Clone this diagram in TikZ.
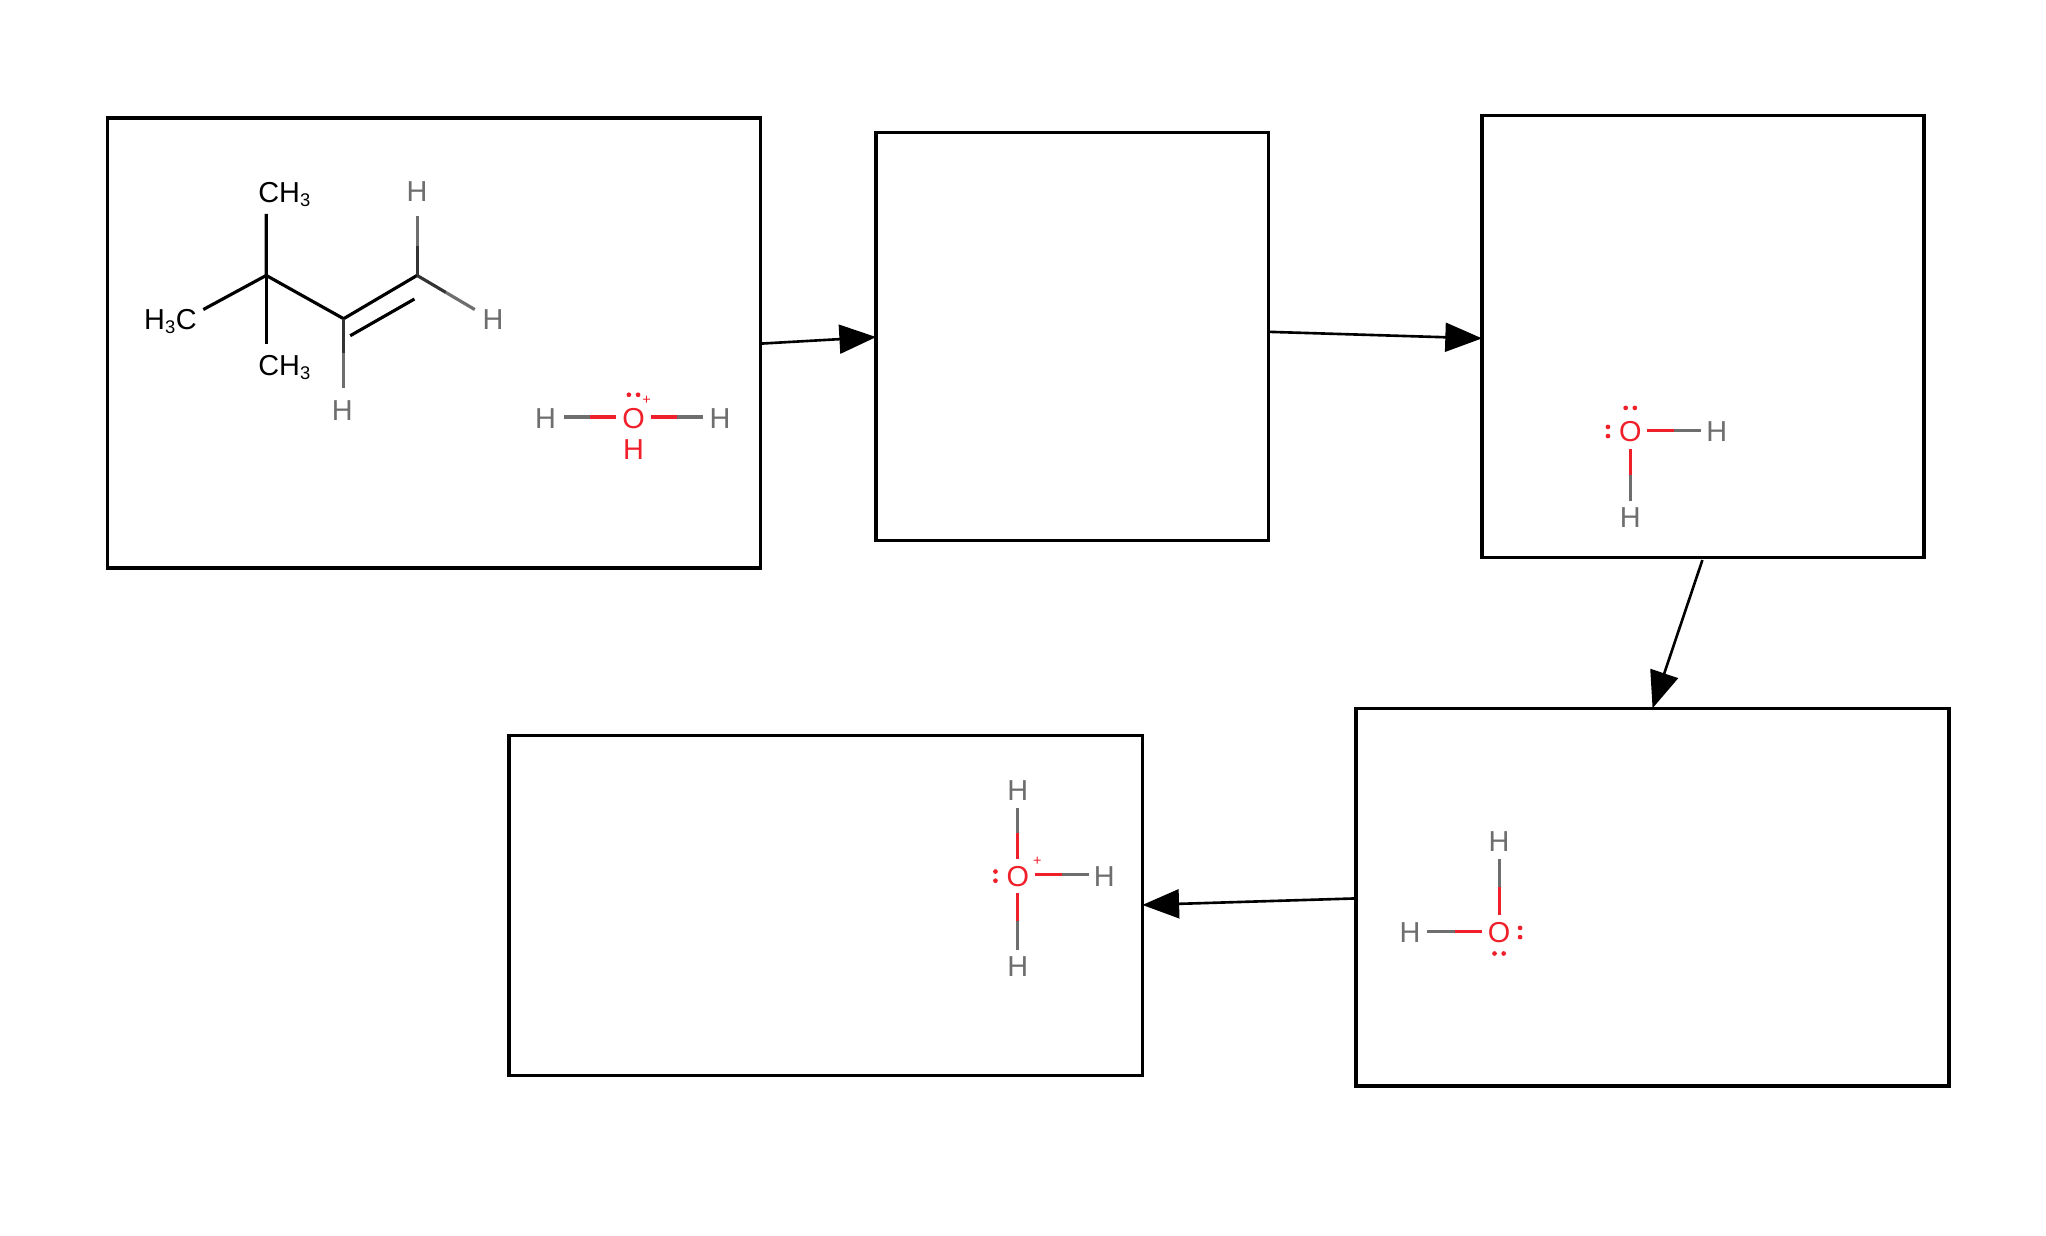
\documentclass[tikz,border=0pt]{standalone}
\usepackage{fontspec}
\setmainfont{Liberation Sans}
\usetikzlibrary{arrows.meta,calc}
\definecolor{hg}{HTML}{6E6E6E}
\definecolor{ored}{HTML}{F0202A}
\tikzset{x=1pt,y=-1pt,
 box/.style={draw,line width=2.6pt,inner sep=0,outer sep=0,anchor=north west},
 conn/.style={line width=2pt,-{Triangle[length=28pt,width=22pt]}},
 bond/.style={line width=2.4pt},
 atom/.style={font=\fontsize{22}{22}\selectfont,inner sep=0},
 lp/.style={fill=ored,draw=none}}
\newcommand{\mkbox}[5]{\node[box,minimum width=#4-#2,minimum height=#5-#3] (#1) at (#2,#3) {};}
\newcommand{\hb}[4]{\draw[bond,#3] (#1) -- ($(#1)!0.5!(#2)$); \draw[bond,#4] ($(#1)!0.5!(#2)$) -- (#2);}
\newcommand{\sbt}{\textsubscript{\fontsize{14}{14}\selectfont 3}}
\begin{document}
\begin{tikzpicture}
\useasboundingbox (0,0) rectangle (1560,942);
\fill[white] (0,0) rectangle (1560,942);
\mkbox{b1}{82}{90}{580}{433}
\mkbox{b2}{668}{101}{967}{412}
\mkbox{b3}{1130}{88}{1467}{425}
\mkbox{b4}{1034}{540}{1486}{828}
\mkbox{b5}{388}{561}{871}{820}
\coordinate (a1s) at (580,262); \coordinate (a1e) at (668,257);
\coordinate (a2s) at (967,253); \coordinate (a2e) at (1130,258);
\coordinate (a3s) at (1298,427); \coordinate (a3e) at (1260,540);
\coordinate (a4s) at (1034,685); \coordinate (a4e) at (871,690);
\draw[conn] (a1s) -- (a1e);
\draw[conn] (a2s) -- (a2e);
\draw[conn] (a3s) -- (a3e);
\draw[conn] (a4s) -- (a4e);
% molecule
\node[atom] (ct) at (217,148) {CH\sbt};
\node[atom] (cl) at (130,245) {H\sbt C};
\node[atom] (cb) at (217,280) {CH\sbt};
\node[atom,text=hg] (h1) at (318,146) {H};
\node[atom,text=hg] (h2) at (376,244) {H};
\node[atom,text=hg] (h3) at (261,313) {H};
\draw[bond] (203,163) -- (203,210) -- (155,236);
\draw[bond] (203,210) -- (203,262);
\draw[bond] (203,210) -- (262,243) -- (318,210);
\draw[bond] (267,256) -- (316,228);
\hb{318,210}{318,165}{black!80}{hg}
\hb{318,210}{362,236}{black!80}{hg}
\hb{262,243}{262,296}{black!80}{hg}
% water 1 (H3O+)
\node[atom,text=hg] (w1a) at (416,319) {H};
\node[atom,text=ored] (w1o) at (483,319) {O};
\node[atom,text=hg] (w1b) at (549,319) {H};
\node[atom,text=ored] (w1c) at (483,343) {H};
\hb{430,318}{470,318}{hg}{ored}
\hb{536,318}{496,318}{hg}{ored}
\fill[lp] (479.5,301) circle (1.8) (486.5,301) circle (1.8);
\node[atom,text=ored,font=\fontsize{11}{11}\selectfont] (w1p) at (493,305) {+};
% water 3
\node[atom,text=ored] (w3o) at (1243,329) {O};
\node[atom,text=hg] (w3h) at (1309,329) {H};
\node[atom,text=hg] (w3v) at (1243,395) {H};
\hb{1297,328}{1256,328}{hg}{ored}
\hb{1243,382}{1243,342}{hg}{ored}
\fill[lp] (1239.5,311) circle (1.8) (1246.5,311) circle (1.8) (1226,325.5) circle (1.8) (1226,332.5) circle (1.8);
% water 4
\node[atom,text=ored] (w4o) at (1143,711) {O};
\node[atom,text=hg] (w4h) at (1143,642) {H};
\node[atom,text=hg] (w4l) at (1075,711) {H};
\hb{1143,655}{1143,698}{hg}{ored}
\hb{1088,710}{1130,710}{hg}{ored}
\fill[lp] (1159,707.5) circle (1.8) (1159,714.5) circle (1.8) (1139.5,727) circle (1.8) (1146.5,727) circle (1.8);
% water 5 (H3O+)
\node[atom,text=ored] (w5o) at (776,668) {O};
\node[atom,text=hg] (w5t) at (776,603) {H};
\node[atom,text=hg] (w5b) at (776,737) {H};
\node[atom,text=hg] (w5r) at (842,668) {H};
\hb{776,616}{776,655}{hg}{ored}
\hb{776,724}{776,681}{hg}{ored}
\hb{830,667}{789,667}{hg}{ored}
\fill[lp] (759,664.5) circle (1.8) (759,671.5) circle (1.8);
\node[atom,text=ored,font=\fontsize{11}{11}\selectfont] (w5p) at (791,657) {+};
\end{tikzpicture}
\end{document}
